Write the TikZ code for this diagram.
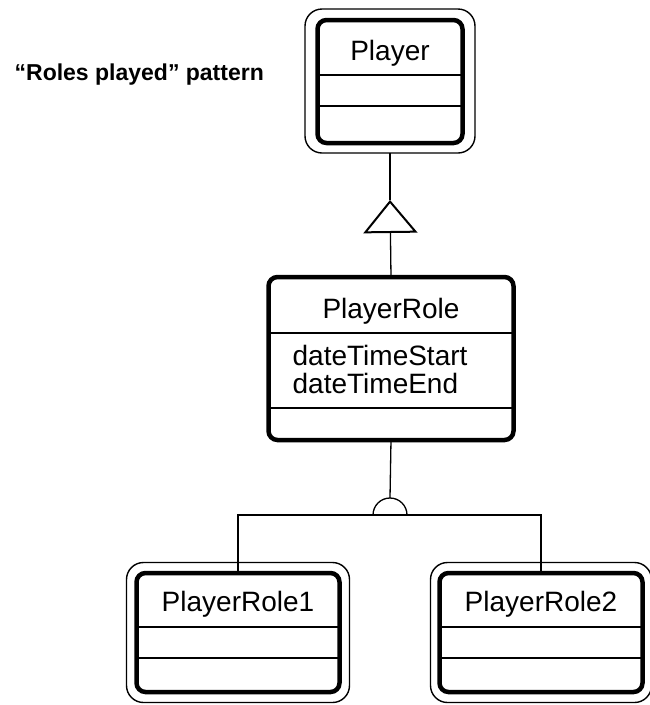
\documentclass[tikz,border=0pt]{standalone}
\usepackage{fontspec}
\setmainfont{Liberation Sans}
\usepackage{tikz}
\usetikzlibrary{arrows.meta}
\newcommand{\classfont}{\fontsize{28}{28}\selectfont}
\newcommand{\framegap}{10pt}
\tikzstyle{classbox}=[draw, line width=4.5pt, rounded corners=9pt, inner sep=0, outer sep=0]
\tikzstyle{classframe}=[draw, line width=1.4pt, rounded corners=17pt, inner sep=0, outer sep=0]
\tikzstyle{compartment}=[line width=1.3pt]
\tikzstyle{classname}=[inner sep=0, anchor=base, font=\classfont]
\tikzstyle{attribute}=[inner sep=0, anchor=base west, font=\classfont]
\tikzstyle{classdiagram}=[x=1pt, y=1pt, line width=1.3pt,
                          % Generalization tip drawn open.
                          gentip/.style={-{Triangle[open, length=33pt, width=54pt, line width=2pt]}}]

\begin{document}
\begin{tikzpicture}[classdiagram]
        \useasboundingbox (0, 0) rectangle (650, -705);
        \node[anchor=base west, inner sep=0, font=\bfseries\fontsize{23}{23}\selectfont] (pattern) at (14, -80) {“Roles played" pattern};
        % Player
        \node[classbox, minimum width=145pt, minimum height=123pt] (Player) at (390, -81.5) {};
        \node[classframe, minimum width=170pt, minimum height=144pt] (PlayerFrame) at (390, -81) {};
        \node[classname] (PlayerName) at (390, -60) {Player};
        \draw[compartment] (Player.west |- 0, -75) -- (Player.east |- 0, -75);
        \draw[compartment] (Player.west |- 0, -106) -- (Player.east |- 0, -106);
        % PlayerRole
        \node[classbox, minimum width=245pt, minimum height=163pt] (PlayerRole) at (391, -358.5) {};
        \node[classname] (PlayerRoleName) at (391, -318) {PlayerRole};
        \draw[compartment] (PlayerRole.west |- 0, -333) -- (PlayerRole.east |- 0, -333);
        \draw[compartment] (PlayerRole.west |- 0, -408) -- (PlayerRole.east |- 0, -408);
        \node[attribute] (attrStart) at (292, -365) {dateTimeStart};
        \node[attribute] (attrEnd) at ([yshift=-28pt]attrStart.base west) {dateTimeEnd};
        % PlayerRole1 and PlayerRole2
        \node[classbox, minimum width=203pt, minimum height=119pt] (PlayerRole1) at (238, -632.5) {};
        \node[classframe, minimum width=223pt, minimum height=140pt] (PlayerRole1Frame) at (238, -632.5) {};
        \node[classname] (PlayerRole1Name) at (238, -611) {PlayerRole1};
        \draw[compartment] (PlayerRole1.west |- 0, -627) -- (PlayerRole1.east |- 0, -627);
        \draw[compartment] (PlayerRole1.west |- 0, -658) -- (PlayerRole1.east |- 0, -658);
        \node[classbox, minimum width=203pt, minimum height=119pt] (PlayerRole2) at (541, -632.5) {};
        \node[classframe, minimum width=221pt, minimum height=140pt] (PlayerRole2Frame) at (541, -632.5) {};
        \node[classname] (PlayerRole2Name) at (541, -611) {PlayerRole2};
        \draw[compartment] (PlayerRole2.west |- 0, -627) -- (PlayerRole2.east |- 0, -627);
        \draw[compartment] (PlayerRole2.west |- 0, -658) -- (PlayerRole2.east |- 0, -658);
        % generalization
        \coordinate (genTip) at (390, -200);
        \draw[gentip] (PlayerRole.north) -- (genTip);
        \draw (genTip) -- (PlayerFrame.south);
        % split into the two roles
        \coordinate (split) at (390, -515);
        \draw (PlayerRole.south) -- ([yshift=17pt]split);
        \draw ([xshift=-17pt]split) arc[start angle=180, end angle=0, radius=17pt];
        \draw (PlayerRole1.north) |- (split) -| (PlayerRole2.north);
    \end{tikzpicture}
\end{document}
